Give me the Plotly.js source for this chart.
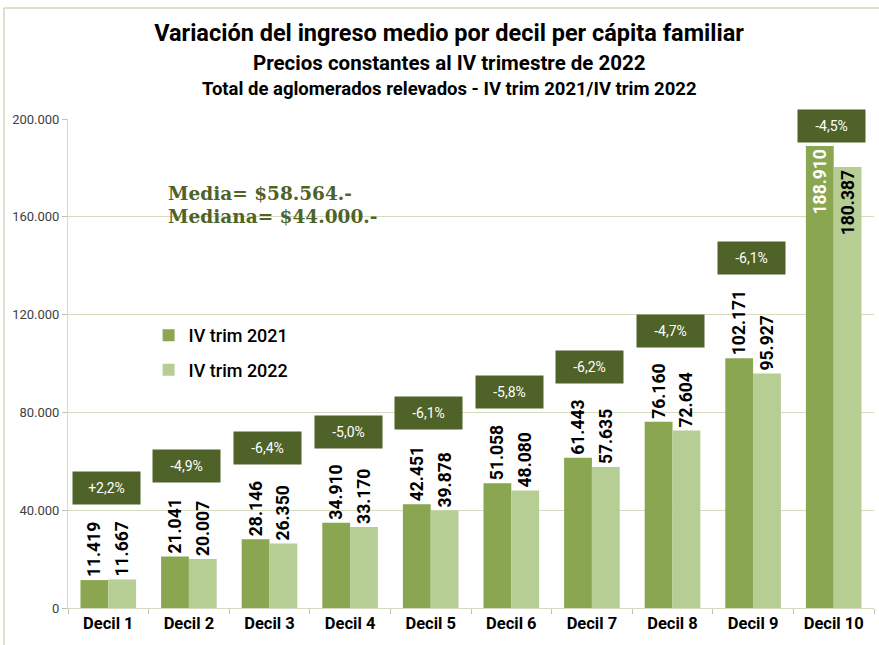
<!DOCTYPE html>
<html>
<head>
<meta charset="utf-8">
<script src="https://cdn.plot.ly/plotly-3.0.1.min.js"></script>
<style>
html,body{margin:0;padding:0;background:#fff;}
#chart{width:879px;height:645px;}
</style>
</head>
<body>
<div id="chart"></div>
<script>
const categories = ["Decil 1","Decil 2","Decil 3","Decil 4","Decil 5","Decil 6","Decil 7","Decil 8","Decil 9","Decil 10"];
const trim2021 = [11419, 21041, 28146, 34910, 42451, 51058, 61443, 76160, 102171, 188910];
const trim2022 = [11667, 20007, 26350, 33170, 39878, 48080, 57635, 72604, 95927, 180387];
const variationLabels = ["+2,2%","-4,9%","-6,4%","-5,0%","-6,1%","-5,8%","-6,2%","-4,7%","-6,1%","-4,5%"];
const seriesNames = ["IV trim 2021","IV trim 2022"];
const yTicks = [0, 40000, 80000, 120000, 160000, 200000];
const mediaText = "Media= $58.564.-";
const medianaText = "Mediana= $44.000.-";

const DARK = "#8AA650", LIGHT = "#B6CD93", BOX = "#4F6228";
const insideIdx = categories.length - 1;
const fmt = v => v.toLocaleString("de-DE");

function traceFor(name, vals, color, insideColor) {
  return {
    type: "bar", name: name, x: categories, y: vals,
    marker: {color: color},
    texttemplate: "%{y:,.0f}",
    textposition: vals.map((v, i) => i === insideIdx ? "inside" : "outside"),
    insidetextanchor: "end",
    textangle: -90,
    constraintext: "none",
    cliponaxis: false,
    textfont: {family: "Roboto, sans-serif", size: 17.5, weight: 700,
      color: vals.map((v, i) => i === insideIdx ? insideColor : "#000000")},
    legendgroup: name,
    hoverinfo: "none"
  };
}

const data = [
  traceFor(seriesNames[0], trim2021, DARK, "#ffffff"),
  traceFor(seriesNames[1], trim2022, LIGHT, "#000000")
];

const annotations = categories.map((c, i) => {
  const m = Math.max(trim2021[i], trim2022[i]);
  const lab = fmt(m);
  const shift = i === insideIdx ? 3 : 20 + 9 * lab.length;
  return {
    xref: "x", yref: "y", x: c, y: m, yanchor: "bottom", yshift: shift, xshift: -2,
    text: variationLabels[i], showarrow: false,
    bgcolor: BOX, width: 65, height: 30,
    font: {family: "Roboto, sans-serif", size: 14, color: "#ffffff"}
  };
});

annotations.push({
  xref: "paper", yref: "paper", x: 0.122, y: (608 - 193) / 489, xanchor: "left", yanchor: "middle",
  text: "<b>" + mediaText + "</b>", showarrow: false,
  font: {family: "DejaVu Serif, serif", size: 18.5, color: BOX}
});
annotations.push({
  xref: "paper", yref: "paper", x: 0.122, y: (608 - 216) / 489, xanchor: "left", yanchor: "middle",
  text: "<b>" + medianaText + "</b>", showarrow: false,
  font: {family: "DejaVu Serif, serif", size: 18.5, color: BOX}
});
annotations.push({
  xref: "paper", yref: "paper", x: (449 - 68) / 806, y: 1.0 + (119 - 63) / 489, xanchor: "center", yanchor: "middle",
  text: "<b>Precios constantes al IV trimestre de 2022</b>", showarrow: false,
  font: {family: "Roboto, sans-serif", size: 20.5, color: "#000"}
});
annotations.push({
  xref: "paper", yref: "paper", x: (449 - 68) / 806, y: 1.0 + (119 - 89) / 489, xanchor: "center", yanchor: "middle",
  text: "<b>Total de aglomerados relevados - IV trim 2021/IV trim 2022</b>", showarrow: false,
  font: {family: "Roboto, sans-serif", size: 18.5, color: "#000"}
});

const layout = {
  width: 879, height: 645,
  margin: {l: 68, r: 5, t: 119, b: 37},
  paper_bgcolor: "#ffffff", plot_bgcolor: "#ffffff",
  separators: ",.",
  title: {text: "<b>Variación del ingreso medio por decil per cápita familiar</b>",
    x: 449 / 879, xanchor: "center", y: 1 - 33 / 645, yanchor: "middle",
    font: {family: "Roboto, sans-serif", size: 23.5, color: "#000"}},
  barmode: "group", bargap: 0.31, bargroupgap: 0,
  showlegend: true,
  legend: {x: 0.1, y: 0.595, xanchor: "left", yanchor: "top", traceorder: "grouped",
    tracegroupgap: 8, bgcolor: "rgba(0,0,0,0)",
    font: {family: "Roboto, sans-serif", size: 18, weight: 500, color: "#000"}},
  xaxis: {type: "category", tickson: "boundaries", ticks: "outside", ticklen: 5,
    tickcolor: "#BFBFBF", showline: true, linecolor: "#D6DBBE", showgrid: false,
    tickfont: {family: "Roboto, sans-serif", size: 16.5, weight: 700, color: "#000"}},
  yaxis: {range: [0, 200000], tickvals: yTicks, tickformat: ",.0f",
    ticks: "outside", ticklen: 5, tickcolor: "#BFBFBF",
    showline: true, linecolor: "#D6DBBE", gridcolor: "#D6DBBE", zeroline: false,
    tickfont: {family: "Roboto, sans-serif", size: 13, color: "#404040"}},
  annotations: annotations,
  shapes: [
    {type: "line", xref: "paper", yref: "paper",
      x0: (4 - 68) / 806, x1: (879 - 68) / 806, y0: (608 - 8) / 489, y1: (608 - 8) / 489,
      line: {color: "#D3D8BC", width: 1.5}},
    {type: "line", xref: "paper", yref: "paper",
      x0: (4 - 68) / 806, x1: (4 - 68) / 806, y0: (608 - 8) / 489, y1: (608 - 645) / 489,
      line: {color: "#D3D8BC", width: 1.5}}
  ]
};

Plotly.newPlot("chart", data, layout, {displayModeBar: false, staticPlot: true});
</script>
</body>
</html>
